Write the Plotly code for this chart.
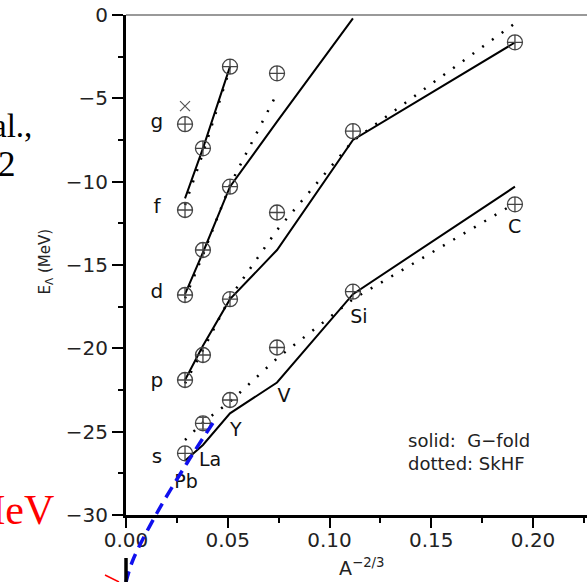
import plotly.graph_objects as go

W, H = 587, 582
# plot area in pixels
PL, PR, PT, PB = 126, 587, 15, 515
XMAX = 0.2265
YMIN, YMAX = -30.0, 0.0

nuclei = ["Pb", "La", "Y", "V", "Si", "C"]
x_nuc = [0.0290, 0.0378, 0.0511, 0.0742, 0.1115, 0.1911]

# experimental
exp_s = [-26.3, -24.5, -23.1, -19.95, -16.6, -11.36]
exp_p = [-21.9, -20.4, -17.05, -11.85, -6.97, -1.64]
exp_d = [-16.8, -14.1, -10.3, -3.5]
exp_f = [-11.7, -8.0, -3.1]
exp_g = [-6.55]
exp_g_alt = [-5.47]

# solid: G-fold
gfold_s = [-26.75, -25.8, -23.9, -22.05, -16.75, -10.3]
gfold_p = [-21.9, -19.85, -17.05, -14.1, -7.5, -1.65]
gfold_d = [-16.75, -14.25, -10.3, -6.4, -0.2]
gfold_f = [-11.0, -8.0, -3.1]

# dotted: SkHF
skhf_s = [-25.5, -24.45, -23.2, -20.6, -17.05, -11.3]
skhf_p = [-22.1, -20.1, -16.95, -12.9, -7.55, -0.5]
skhf_d = [-17.0, -14.4, -10.2, -4.7]
skhf_f = [-11.4, -8.3, -3.2]

# blue dashed extrapolation curve
blue_x = [0.0427, 0.0300, 0.0152, 0.0034, 0.0]
blue_E = [-24.48, -26.88, -29.88, -32.7, -34.02]

shell_labels = ["g", "f", "d", "p", "s"]
shell_label_x = [0.0152] * 5
shell_label_E = [-6.45, -11.6, -16.7, -22.0, -26.55]

nuc_label_x = [0.0295, 0.0413, 0.0540, 0.0776, 0.1144, 0.1910]
nuc_label_E = [-28.1, -26.75, -25.0, -22.95, -18.2, -12.8]

FONT = "DejaVu Sans"
fig = go.Figure()

def solid(xs, ys):
    fig.add_trace(go.Scatter(x=xs, y=ys, mode="lines",
                             line=dict(color="black", width=2)))

def dotted(xs, ys):
    fig.add_trace(go.Scatter(x=xs, y=ys, mode="lines",
                             line=dict(color="black", width=2.5, dash="2px,10px")))

for vals in (gfold_s, gfold_p):
    solid(x_nuc, vals)
solid(x_nuc[:5], gfold_d)
solid(x_nuc[:3], gfold_f)
for vals in (skhf_s, skhf_p):
    dotted(x_nuc, vals)
dotted(x_nuc[:4], skhf_d)
dotted(x_nuc[:3], skhf_f)

exp_x = x_nuc + x_nuc + x_nuc[:4] + x_nuc[:3] + x_nuc[:1]
exp_y = exp_s + exp_p + exp_d + exp_f + exp_g
fig.add_trace(go.Scatter(x=exp_x, y=exp_y, mode="markers", cliponaxis=False,
                         marker=dict(symbol="circle-cross-open", size=15,
                                     color="#444", line=dict(width=1.3, color="#444"))))
fig.add_trace(go.Scatter(x=x_nuc[:1], y=exp_g_alt, mode="markers",
                         marker=dict(symbol="x-thin-open", size=10, color="#555",
                                     line=dict(width=1.2, color="#555"))))
# error bar on La s
fig.add_trace(go.Scatter(x=[x_nuc[1]], y=[exp_s[1]], mode="markers",
                         marker=dict(size=1, color="rgba(0,0,0,0)"),
                         error_y=dict(type="constant", value=0.35, color="#555",
                                      thickness=1.2, width=4)))

fig.add_trace(go.Scatter(x=shell_label_x, y=shell_label_E, mode="text",
                         text=shell_labels, cliponaxis=False,
                         textfont=dict(family=FONT, size=20, color="#111")))
fig.add_trace(go.Scatter(x=nuc_label_x, y=nuc_label_E, mode="text",
                         text=nuclei, cliponaxis=False,
                         textfont=dict(family=FONT, size=19, color="#111")))

# second (invisible) subplot covering the whole figure with the same data scale
sx = (PR - PL) / XMAX
sy = (PB - PT) / (YMAX - YMIN)
x2_range = [-PL / sx, XMAX + (W - PR) / sx]
y2_range = [YMIN - (H - PB) / sy, YMAX + PT / sy]
fig.add_trace(go.Scatter(x=blue_x, y=blue_E, mode="lines", xaxis="x2", yaxis="y2",
                         line=dict(color="#1010ee", width=3.5, dash="12px,7px",
                                   shape="spline")))

fig.update_layout(
    width=W, height=H, autosize=False, margin=dict(l=0, r=0, t=0, b=0, pad=0),
    paper_bgcolor="white", plot_bgcolor="rgba(0,0,0,0)", showlegend=False,
    xaxis=dict(domain=[PL / W, PR / W], range=[0, XMAX], dtick=0.05, tick0=0,
               automargin=False, ticklabelstandoff=-5,
               tickformat=".2f", ticks="outside", ticklen=10, tickwidth=2,
               tickcolor="black", showline=True, linewidth=2.5, linecolor="black",
               showgrid=False, zeroline=False,
               minor=dict(dtick=0.025, ticks="outside", ticklen=5, tickwidth=2,
                          tickcolor="black"),
               tickfont=dict(family=FONT, size=20, color="#222")),
    yaxis=dict(domain=[(H - PB) / H, (H - PT) / H], range=[YMIN, YMAX], dtick=5,
               automargin=False,
               ticks="outside", ticklen=11, tickwidth=2, tickcolor="black",
               showline=True, linewidth=3, linecolor="black",
               showgrid=False, zeroline=False,
               minor=dict(dtick=2.5, ticks="outside", ticklen=5, tickwidth=2,
                          tickcolor="black"),
               tickfont=dict(family=FONT, size=20, color="#222")),
    xaxis2=dict(domain=[0, 1], range=x2_range, visible=False, anchor="y2",
                automargin=False, fixedrange=True),
    yaxis2=dict(domain=[0, 1], range=y2_range, visible=False, anchor="x2",
                automargin=False, fixedrange=True),
)

def px(xp):
    return xp / W

def py(yp):
    return 1 - yp / H

fig.add_shape(type="line", xref="paper", yref="paper", x0=px(PL), x1=1,
              y0=py(PT), y1=py(PT), line=dict(color="#999", width=2))
fig.add_shape(type="line", xref="paper", yref="paper", x0=px(126), x1=px(126),
              y0=py(558), y1=py(582), line=dict(color="black", width=3.5))
fig.add_shape(type="line", xref="paper", yref="paper", x0=px(105), x1=px(119),
              y0=py(575), y1=py(582), line=dict(color="red", width=1.5))

ann = []
ann.append(dict(text="A<sup>−2/3</sup>", x=px(362), y=py(581), yanchor="bottom",
                xref="paper", yref="paper",
                showarrow=False, font=dict(family=FONT, size=19, color="#222")))
ann.append(dict(text="E<sub>Λ</sub> (MeV)", x=px(33), y=py(262), xref="paper", yref="paper",
                showarrow=False, textangle=-90, font=dict(family=FONT, size=15, color="#222")))
ann.append(dict(text="solid:  G−fold<br>dotted: SkHF", x=px(406), y=py(476),
                xref="paper", yref="paper", xanchor="left", align="left", showarrow=False,
                font=dict(family=FONT, size=18, color="#222")))
ann.append(dict(text="al.,", x=px(34), y=py(106), xref="paper", yref="paper",
                xanchor="right", showarrow=False,
                font=dict(family="Liberation Serif", size=33, color="black")))
ann.append(dict(text="2", x=px(18), y=py(143), xref="paper", yref="paper",
                xanchor="right", showarrow=False,
                font=dict(family="Liberation Serif", size=35, color="black")))
ann.append(dict(text="MeV", x=px(56), y=py(535), xref="paper", yref="paper",
                xanchor="right", showarrow=False,
                font=dict(family="Liberation Serif", size=42, color="red")))
fig.update_layout(annotations=ann)

fig.write_html("out.html", config={"displayModeBar": False},
               post_script="document.body.style.margin='0';"
                           "document.body.style.overflow='hidden';")
